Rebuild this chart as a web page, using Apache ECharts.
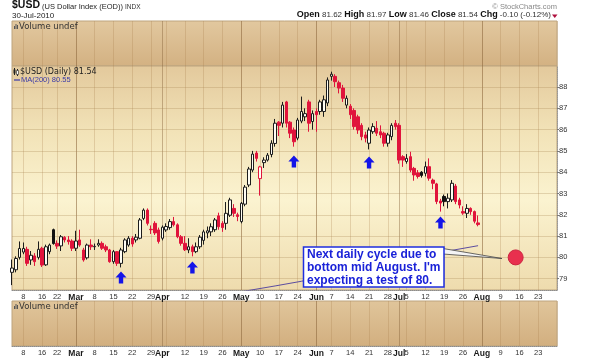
<!DOCTYPE html>
<html><head><meta charset="utf-8">
<script src="https://cdn.jsdelivr.net/npm/echarts@6/dist/echarts.min.js"></script>
<style>html,body{margin:0;padding:0;background:#fff}#c{width:600px;height:360px}</style>
</head><body><div id="c"></div>
<script>
// ---- calendar (trading days Feb 3 .. Aug 30, 2010) ----
const holidays = ['02-15', '04-02', '05-31'];
const dates = [];
const dow = [];
(function () {
  let t = Date.UTC(2010, 1, 3);
  const end = Date.UTC(2010, 7, 30);
  while (t <= end) {
    const d = new Date(t);
    const wd = d.getUTCDay();
    const s = String(d.getUTCMonth() + 1).padStart(2, '0') + '-' + String(d.getUTCDate()).padStart(2, '0');
    if (wd !== 0 && wd !== 6 && holidays.indexOf(s) < 0) { dates.push(s); dow.push(wd); }
    t += 86400000;
  }
})();

// ---- tick labels ----
const xTickDates = ['02-08','02-16','02-22','03-01','03-08','03-15','03-22','03-29','04-01','04-12','04-19','04-26','05-03','05-10','05-17','05-24','06-01','06-07','06-14','06-21','06-28','07-01','07-05','07-12','07-19','07-26','08-02','08-09','08-16','08-23'];
const xTickLabels = ['8','16','22','Mar','8','15','22','29','Apr','12','19','26','May','10','17','24','Jun','7','14','21','28','Jul','5','12','19','26','Aug','9','16','23'];
const yTicks = [79, 80, 81, 82, 83, 84, 85, 86, 87, 88];

// ---- daily candles $USD (Feb 3 .. Jul 30) ----
const opens = [79.3,79.42,80.0,80.25,80.38,79.88,80.07,80.0,80.43,79.65,80.27,81.3,80.66,80.54,80.94,80.82,80.77,80.43,80.82,80.35,
79.98,80.58,80.5,80.58,80.66,80.5,80.35,79.8,80.27,79.72,80.27,80.58,80.9,80.82,80.9,81.83,82.22,81.32,81.6,81.29,
80.9,81.29,81.4,81.68,81.53,80.97,80.66,80.35,80.5,80.27,80.5,80.8,81.15,81.2,81.3,81.95,81.6,81.6,81.98,82.3,
82.0,81.68,82.5,83.4,84.1,84.9,83.7,84.45,84.57,84.83,85.35,86.35,86.3,87.3,86.35,85.98,85.6,86.4,86.6,87.3,
86.38,86.85,86.85,86.85,87.25,88.5,88.5,88.2,87.95,87.15,87.1,86.9,86.6,86.2,85.75,85.36,85.9,86.06,85.9,85.83,
85.36,85.67,86.3,86.2,84.73,84.5,84.73,84.18,83.97,84.0,83.95,84.26,83.63,83.45,82.65,82.86,82.62,82.7,83.35,82.7,
82.15,82.07,82.3,82.15,81.62];
const closes = [79.5,79.95,80.42,80.42,79.72,80.1,79.8,80.38,79.64,80.5,80.58,80.65,80.53,80.97,80.82,80.74,80.43,80.77,80.58,79.88,
80.58,80.5,80.52,80.66,80.43,80.35,79.8,80.27,79.72,80.35,80.82,80.9,80.63,80.95,81.76,82.22,81.6,81.3,81.15,80.75,
81.42,81.45,81.68,81.53,80.97,80.66,80.36,80.5,80.27,80.5,80.95,81.2,81.25,81.44,81.76,81.44,81.4,82.07,82.7,82.07,
81.92,82.54,83.3,84.15,84.85,84.65,84.25,84.57,84.8,85.36,86.3,86.2,87.15,86.3,85.83,85.43,86.45,86.85,86.75,86.3,
86.75,86.7,87.3,87.4,88.33,88.6,88.25,87.95,87.47,87.47,86.7,86.14,85.98,85.67,85.6,85.98,86.14,85.83,85.75,85.36,
85.75,86.2,86.14,84.57,84.57,84.65,84.1,83.87,83.8,83.85,84.26,83.72,83.48,82.62,82.55,82.62,82.78,83.48,82.62,82.46,
82.08,82.3,82.15,81.7,81.54];
const lows = [78.7,79.3,79.9,80.15,79.6,79.65,79.6,79.9,79.55,79.6,80.15,80.6,80.4,80.3,80.7,80.6,80.3,80.3,80.5,79.8,
79.9,80.35,80.35,80.5,80.35,80.25,79.75,79.7,79.6,79.53,80.2,80.5,80.5,80.7,80.85,81.75,81.5,81.1,81.05,80.65,
80.8,81.2,81.3,81.45,80.9,80.55,80.3,80.2,80.05,80.2,80.4,80.6,80.9,81.0,81.2,81.3,81.2,81.3,81.9,81.9,
81.7,81.6,82.4,83.3,84.0,84.5,82.9,84.2,84.5,84.7,85.2,85.7,86.1,86.1,85.6,85.2,85.5,86.3,86.4,85.9,
86.0,85.9,86.7,86.6,87.1,88.3,88.0,87.7,87.3,87.0,86.5,86.0,85.8,85.5,85.4,85.07,85.8,85.7,85.6,85.2,
85.2,85.5,86.0,84.4,84.25,84.4,84.0,83.6,83.7,83.75,83.8,83.6,83.2,82.5,82.15,82.4,82.3,82.6,82.5,82.3,
82.0,81.85,82.0,81.6,81.46];
const highs = [79.9,80.05,80.75,80.7,80.5,80.3,80.2,80.75,80.5,80.6,80.65,81.35,80.8,81.05,81.0,81.0,80.85,81.25,81.3,80.45,
80.65,80.85,80.65,80.85,80.75,80.6,80.4,80.35,80.3,80.45,80.9,81.0,81.0,81.1,81.85,82.3,82.3,81.5,81.7,81.4,
81.5,81.6,81.8,81.9,81.6,81.05,81.0,80.9,80.6,80.7,81.05,81.3,81.45,81.6,81.85,82.1,81.7,82.6,82.8,82.5,
82.1,82.6,83.4,84.25,85.0,85.0,84.3,84.7,84.9,85.5,86.5,86.4,87.3,87.35,86.4,86.1,86.55,87.55,87.0,87.4,
86.9,87.0,87.4,87.6,88.45,88.72,88.6,88.3,88.1,87.6,87.2,87.0,86.7,86.3,85.9,86.1,86.3,86.4,86.2,85.9,
85.85,86.3,86.45,86.3,84.8,84.85,84.96,84.25,84.1,84.05,84.5,84.65,83.7,83.5,82.75,82.95,83.0,83.63,83.45,82.8,
82.4,82.5,82.35,82.2,81.97];
const blackIdx = [11, 109, 115];
const redHollowIdx = [66];

// ---- MA(200) ----
const maDates = ['04-23','05-05','05-14','05-25','06-07','06-21','07-05','07-21','07-30'];
const maValues = [78.2, 78.45, 78.66, 78.88, 79.17, 79.55, 79.93, 80.33, 80.55];

// ---- annotations ----
const arrowDates = ['03-17', '04-14', '05-21', '06-21', '07-16'];
const arrowPrices = [79.06, 79.53, 84.5, 84.46, 81.64];
const targetDate = '08-13';
const targetPrice = 80;

// ---------------------------------------------------------------
const F = '"Liberation Sans", Arial, sans-serif';
const FD = '"DejaVu Sans", Verdana, sans-serif';
const RED = '#e0143c';
const UPFILL = '#fffdf3';
const labelMap = {};
xTickDates.forEach((d, i) => { labelMap[d] = xTickLabels[i]; });
const isWeekStart = i => i > 0 && dow[i] < dow[i - 1];
const isMonthStart = i => i > 0 && dates[i].slice(0, 2) !== dates[i - 1].slice(0, 2);

const candleData = opens.map((o, i) => {
  const d = { value: [o, closes[i], lows[i], highs[i]] };
  if (blackIdx.indexOf(i) >= 0) d.itemStyle = { color: '#111', color0: '#111', borderColor: '#111', borderColor0: '#111' };
  else if (redHollowIdx.indexOf(i) >= 0) d.itemStyle = { color: UPFILL, color0: UPFILL, borderColor: RED, borderColor0: RED };
  return d;
});

const volGrad = new echarts.graphic.LinearGradient(0, 0, 0, 1, [
  { offset: 0, color: '#e2c89f' }, { offset: 1, color: '#d3b182' }]);
const volGrad2 = new echarts.graphic.LinearGradient(0, 0, 0, 1, [
  { offset: 0, color: '#e0c59b' }, { offset: 1, color: '#d2af7f' }]);
const priceGrad = new echarts.graphic.LinearGradient(0, 0, 0, 1, [
  { offset: 0, color: '#e3c99c' }, { offset: 0.3, color: '#f2e3b8' },
  { offset: 0.6, color: '#fbf3d0' }, { offset: 1, color: '#eedbad' }]);

function xa(grid, showLabels, kind) {
  return {
    type: 'category', gridIndex: grid, data: dates, boundaryGap: false,
    axisLine: { show: kind === 'week' && showLabels, lineStyle: { color: '#8c8c8c', type: 'dotted' } },
    axisTick: { show: false },
    axisLabel: {
      show: showLabels && kind === 'week',
      interval: (i) => labelMap[dates[i]] !== undefined,
      formatter: (v) => { const t = labelMap[v]; return /[A-Za-z]/.test(t) ? '{m|' + t + '}' : t; },
      color: '#333', fontSize: 7.5, fontFamily: F, margin: 3,
      rich: { m: { fontWeight: 'bold', fontSize: 8.5, fontFamily: F, color: '#1a1a1a' } }
    },
    splitLine: {
      show: true,
      interval: (i) => kind === 'week' ? isWeekStart(i) : isMonthStart(i),
      lineStyle: { color: kind === 'week' ? 'rgba(165,125,75,0.26)' : 'rgba(130,95,55,0.42)', width: 1 }
    }
  };
}
function hiddenY(grid) {
  return { type: 'value', gridIndex: grid, min: 0, max: 1, show: true,
    axisLine: { show: false }, axisTick: { show: false }, axisLabel: { show: false }, splitLine: { show: false } };
}

const chart = echarts.init(document.getElementById('c'), null, { renderer: 'canvas', width: 600, height: 360 });
const gridBase = { left: 12, right: 43, show: true, borderColor: '#bda47e', borderWidth: 1, outerBoundsMode: 'none', containLabel: false };
chart.setOption({
  animation: false,
  backgroundColor: '#ffffff',
  grid: [
    Object.assign({}, gridBase, { top: 21, height: 45, backgroundColor: volGrad }),
    Object.assign({}, gridBase, { top: 66, height: 224, backgroundColor: priceGrad }),
    Object.assign({}, gridBase, { top: 301, height: 45, backgroundColor: volGrad2 })
  ],
  xAxis: [xa(0, false, 'week'), xa(0, false, 'month'), xa(1, true, 'week'), xa(1, false, 'month'), xa(2, true, 'week'), xa(2, false, 'month')],
  yAxis: [
    hiddenY(0),
    { type: 'value', gridIndex: 1, position: 'right', min: 78.47, max: 88.986,
      axisLine: { show: true, lineStyle: { color: '#999', type: 'dotted' } },
      axisTick: { show: true, customValues: yTicks, length: 2, lineStyle: { color: '#777' } },
      axisLabel: { customValues: yTicks, color: '#333', fontSize: 7.5, fontFamily: F, margin: 2 },
      splitLine: { show: false } },
    hiddenY(2)
  ],
  series: [
    { type: 'line', name: 'MA(200)', xAxisIndex: 2, yAxisIndex: 1, z: 1,
      data: maDates.map((d, i) => [d, maValues[i]]), symbol: 'none', clip: true,
      lineStyle: { color: '#5b4c9f', width: 1 },
      markLine: { z: 1, silent: true, symbol: 'none', label: { show: false },
        lineStyle: { color: 'rgba(170,135,85,0.30)', type: 'solid', width: 1 },
        data: yTicks.map(v => ({ yAxis: v })) } },
    { type: 'candlestick', name: '$USD', xAxisIndex: 2, yAxisIndex: 1, z: 3,
      data: candleData, barWidth: 3, clip: false,
      itemStyle: { color: UPFILL, color0: RED, borderColor: '#1c1c1c', borderColor0: RED, borderWidth: 1 } },
    { type: 'scatter', xAxisIndex: 2, yAxisIndex: 1, z: 4,
      data: arrowDates.map((d, i) => [d, arrowPrices[i]]),
      symbol: 'path://M5,0 L10,6 L7,6 L7,12 L3,12 L3,6 L0,6 Z', symbolSize: [11, 12],
      itemStyle: { color: '#1414e8', opacity: 1 } },
    { type: 'scatter', xAxisIndex: 2, yAxisIndex: 1, z: 4,
      data: [[targetDate, targetPrice]], symbol: 'circle', symbolSize: 15,
      itemStyle: { color: '#e8304e', borderColor: '#cc2540', borderWidth: 1, opacity: 1 } }
  ],
  graphic: [
    { type: 'text', z: 100, x: 12, y: 10.5, style: { text: '{a|$USD} {b|(US Dollar Index (EOD))} {c|INDX}', font: '7.5px ' + F, verticalAlign: 'bottom',
      rich: { a: { font: 'bold 10.5px ' + F, fill: '#111', verticalAlign: 'bottom' }, b: { font: '7.5px ' + F, fill: '#222', verticalAlign: 'bottom' }, c: { font: '6.5px ' + F, fill: '#333', verticalAlign: 'bottom' } } } },
    { type: 'text', z: 100, x: 12, y: 15.5, style: { text: '30-Jul-2010', font: '8px ' + F, fill: '#222', verticalAlign: 'middle' } },
    { type: 'text', z: 100, x: 557, y: 7, style: { text: '\u00a9 StockCharts.com', font: '7.5px ' + F, fill: '#888', align: 'right', verticalAlign: 'middle' } },
    { type: 'text', z: 100, x: 551, y: 19, style: { text: '{b|Open} {n|81.62} {b|High} {n|81.97} {b|Low} {n|81.46} {b|Close} {n|81.54} {b|Chg} {n|-0.10 (-0.12%)}', font: '8px ' + F, align: 'right', verticalAlign: 'bottom',
      rich: { b: { font: 'bold 9px ' + F, fill: '#111', verticalAlign: 'bottom' }, n: { font: '8px ' + F, fill: '#333', verticalAlign: 'bottom' } } } },
    { type: 'polygon', z: 100, shape: { points: [[552, 14.5], [557.5, 14.5], [554.75, 18]] }, style: { fill: '#b0103e' } },
    // volume labels
    { type: 'rect', z: 100, shape: { x: 14, y: 26, width: 1, height: 3 }, style: { fill: '#555' } },
    { type: 'rect', z: 100, shape: { x: 15.5, y: 24, width: 1, height: 5 }, style: { fill: '#555' } },
    { type: 'rect', z: 100, shape: { x: 17, y: 25, width: 1, height: 4 }, style: { fill: '#555' } },
    { type: 'text', z: 100, x: 19, y: 26.5, style: { text: 'Volume undef', font: '8.5px ' + FD, fill: '#333', verticalAlign: 'middle' } },
    { type: 'rect', z: 100, shape: { x: 14, y: 306, width: 1, height: 3 }, style: { fill: '#555' } },
    { type: 'rect', z: 100, shape: { x: 15.5, y: 304, width: 1, height: 5 }, style: { fill: '#555' } },
    { type: 'rect', z: 100, shape: { x: 17, y: 305, width: 1, height: 4 }, style: { fill: '#555' } },
    { type: 'text', z: 100, x: 19, y: 306.5, style: { text: 'Volume undef', font: '8.5px ' + FD, fill: '#333', verticalAlign: 'middle' } },
    // price legend
    { type: 'line', z: 100, shape: { x1: 14.5, y1: 68, x2: 14.5, y2: 75 }, style: { stroke: '#222', lineWidth: 1 } },
    { type: 'rect', z: 100, shape: { x: 13.5, y: 69.5, width: 2, height: 4 }, style: { fill: '#222' } },
    { type: 'line', z: 100, shape: { x1: 17.5, y1: 69, x2: 17.5, y2: 76 }, style: { stroke: '#222', lineWidth: 1 } },
    { type: 'rect', z: 100, shape: { x: 16.5, y: 70.5, width: 2, height: 4 }, style: { fill: '#fff', stroke: '#222', lineWidth: 0.6 } },
    { type: 'text', z: 100, x: 20, y: 71.8, style: { text: '$USD (Daily) 81.54', font: '8px ' + FD, fill: '#222', verticalAlign: 'middle' } },
    { type: 'line', z: 100, shape: { x1: 14, y1: 80, x2: 20, y2: 80 }, style: { stroke: '#3a3aa8', lineWidth: 1.2 } },
    { type: 'text', z: 100, x: 21, y: 80, style: { text: 'MA(200) 80.55', font: '7.5px ' + F, fill: '#3a3aa8', verticalAlign: 'middle' } },
    // annotation callout
    { type: 'polygon', z: 100, shape: { points: [[443, 248.5], [502, 258.5], [443, 254]] }, style: { fill: '#f4f4f4', stroke: '#444', lineWidth: 0.8 } },
    { type: 'rect', z: 101, shape: { x: 303.5, y: 247, width: 140.5, height: 40 }, style: { fill: '#ffffff', stroke: '#1e2ee0', lineWidth: 1.5 } },
    { type: 'text', z: 102, x: 307, y: 248, style: { text: 'Next daily cycle due to\nbottom mid August. I\'m\nexpecting a test of 80.', font: 'bold 12px ' + F, lineHeight: 13, fill: '#1a22d8', verticalAlign: 'top' } }
  ]
});
</script>
</body></html>
